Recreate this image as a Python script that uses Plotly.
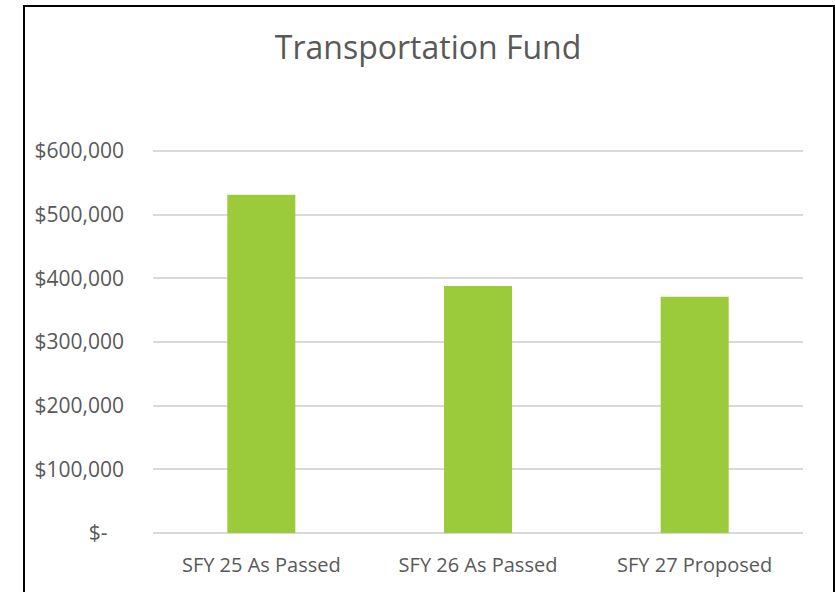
import plotly.graph_objects as go

categories = ["SFY 25 As Passed", "SFY 26 As Passed", "SFY 27 Proposed"]
values = [531000, 388000, 371000]
tick_vals = [0, 100000, 200000, 300000, 400000, 500000, 600000]
tick_text = ["$-\u00a0\u00a0\u00a0", "$100,000", "$200,000", "$300,000",
             "$400,000", "$500,000", "$600,000"]

W, H = 835, 592
L, R, T, B = 153, 32, 149, 59
pw, ph = W - L - R, H - T - B

fig = go.Figure(go.Bar(
    x=categories, y=values,
    marker=dict(color="#9BCB3B", line=dict(width=0)),
))

def px_x(p):
    return (p - L) / pw

def px_y(p):
    return (H - B - p) / ph

fig.update_layout(
    width=W, height=H,
    margin=dict(l=L, r=R, t=T, b=B, autoexpand=False),
    paper_bgcolor="white", plot_bgcolor="white",
    bargap=0.686,
    showlegend=False,
    font=dict(family="Open Sans", color="#595959"),
    title=dict(text="Transportation Fund", x=428 / W, xanchor="center",
               xref="container", y=1 - 48 / H, yanchor="middle",
               font=dict(size=32, color="#595959", family="Open Sans")),
    xaxis=dict(showgrid=False, showline=False, ticks="",
               tickfont=dict(size=20, color="#595959"), ticklabelstandoff=18),
    yaxis=dict(range=[0, 603000], tickvals=tick_vals, ticktext=tick_text,
               showgrid=True, gridcolor="#D9D9D9", gridwidth=1.5,
               zeroline=True, zerolinecolor="#D9D9D9", zerolinewidth=1.5,
               showline=False, ticks="", ticklabelstandoff=28,
               tickfont=dict(size=21, color="#595959")),
    shapes=[dict(type="rect", xref="paper", yref="paper",
                 x0=px_x(24), x1=px_x(834), y0=px_y(620), y1=px_y(6),
                 line=dict(color="black", width=2), fillcolor="rgba(0,0,0,0)",
                 layer="above")],
)

fig.write_html("out.html", config={"displayModeBar": False},
               post_script="document.body.style.margin='0';")
